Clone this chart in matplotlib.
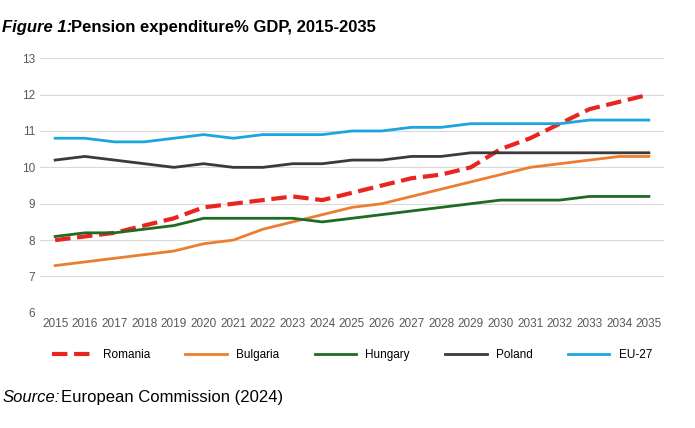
import numpy as np
import matplotlib.pyplot as plt

plt.rcParams['font.family'] = 'Liberation Sans'

years = list(range(2015, 2036))
romania = [8.0, 8.1, 8.2, 8.4, 8.6, 8.9, 9.0, 9.1, 9.2, 9.1, 9.3, 9.5, 9.7, 9.8, 10.0, 10.5, 10.8, 11.2, 11.6, 11.8, 12.0]
bulgaria = [7.3, 7.4, 7.5, 7.6, 7.7, 7.9, 8.0, 8.3, 8.5, 8.7, 8.9, 9.0, 9.2, 9.4, 9.6, 9.8, 10.0, 10.1, 10.2, 10.3, 10.3]
hungary = [8.1, 8.2, 8.2, 8.3, 8.4, 8.6, 8.6, 8.6, 8.6, 8.5, 8.6, 8.7, 8.8, 8.9, 9.0, 9.1, 9.1, 9.1, 9.2, 9.2, 9.2]
poland = [10.2, 10.3, 10.2, 10.1, 10.0, 10.1, 10.0, 10.0, 10.1, 10.1, 10.2, 10.2, 10.3, 10.3, 10.4, 10.4, 10.4, 10.4, 10.4, 10.4, 10.4]
eu27 = [10.8, 10.8, 10.7, 10.7, 10.8, 10.9, 10.8, 10.9, 10.9, 10.9, 11.0, 11.0, 11.1, 11.1, 11.2, 11.2, 11.2, 11.2, 11.3, 11.3, 11.3]

fig, ax = plt.subplots(figsize=(6.95, 4.28), dpi=100)
plt.subplots_adjust(left=0.058, right=0.955, top=0.864, bottom=0.269)

plt.plot(years, romania, color='#E8251F', linestyle='--', linewidth=3, label='Romania')
plt.plot(years, bulgaria, color='#ED7D31', linewidth=2, label='Bulgaria')
plt.plot(years, hungary, color='#1E6B23', linewidth=2, label='Hungary')
plt.plot(years, poland, color='#3A3A3A', linewidth=2, label='Poland')
plt.plot(years, eu27, color='#1CA6DF', linewidth=2, label='EU-27')

ax.set_ylim(6, 13)
ax.set_xlim(2014.5, 2035.5)
ax.set_xticks(years)
ax.set_yticks(range(6, 14))
ax.tick_params(length=0, labelsize=8.5, colors='#595959')
ax.grid(axis='y', color='#D9D9D9', linewidth=0.8)
ax.set_axisbelow(True)
for s in ax.spines.values():
    s.set_visible(False)

plt.legend(loc='upper center', bbox_to_anchor=(0.5, -0.1), ncol=5, frameon=False,
           fontsize=8.5, handlelength=3.5, columnspacing=3)

fig.text(0.003, 0.925, 'Figure 1:', fontsize=12, fontweight='bold', style='italic')
fig.text(0.102, 0.925, 'Pension expenditure% GDP, 2015-2035', fontsize=12, fontweight='bold')
fig.text(0.003, 0.06, 'Source:', fontsize=12, style='italic')
fig.text(0.088, 0.06, 'European Commission (2024)', fontsize=12)

fig.savefig('out.png')
